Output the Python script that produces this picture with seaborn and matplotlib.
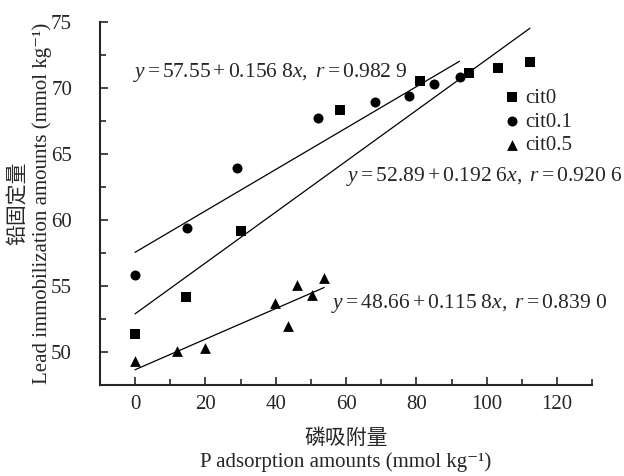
import numpy as np
import pandas as pd
import matplotlib
matplotlib.use('Agg')
import matplotlib.pyplot as plt
import seaborn as sns
from matplotlib.ticker import MultipleLocator

# cit0 (squares)
x_cit0 = [0, 14.6, 30.0, 58.3, 80.9, 95.1, 103.1, 112.3]
y_cit0 = [51.4, 54.2, 59.2, 68.3, 70.5, 71.1, 71.5, 72.0]
# cit0.1 (circles)
x_cit01 = [0, 14.8, 28.9, 52.0, 68.3, 78.0, 85.1, 92.3]
y_cit01 = [55.8, 59.4, 63.9, 67.7, 68.9, 69.4, 70.3, 70.8]
# cit0.5 (triangles)
x_cit05 = [0, 12.0, 19.8, 39.7, 43.4, 46.2, 50.3, 53.8]
y_cit05 = [49.3, 50.1, 50.3, 53.7, 52.0, 55.1, 54.3, 55.6]

# fitted equations shown in the figure (intercept, slope, r)
fits = {
    'cit0': (52.89, 0.1926, 0.9206),
    'cit0.1': (57.55, 0.1568, 0.9829),
    'cit0.5': (48.66, 0.1158, 0.8390),
}
eq_text = {
    'cit0': r'$y=52.89+0.192\ 6x,\ r=0.920\ 6$',
    'cit0.1': r'$y=57.55+0.156\ 8x,\ r=0.982\ 9$',
    'cit0.5': r'$y=48.66+0.115\ 8x,\ r=0.839\ 0$',
}
eq_pos = {'cit0': (60, 63.3), 'cit0.1': (-0.6, 71.2), 'cit0.5': (55.7, 53.7)}

series = {
    'cit0': (x_cit0, y_cit0, 's', 42),
    'cit0.1': (x_cit01, y_cit01, 'o', 52),
    'cit0.5': (x_cit05, y_cit05, '^', 60),
}

sns.set_style('ticks')
plt.rcParams['font.family'] = ['Liberation Serif', 'DejaVu Serif']
plt.rcParams['mathtext.fontset'] = 'custom'
plt.rcParams['mathtext.rm'] = 'Liberation Serif'
plt.rcParams['mathtext.it'] = 'Liberation Serif:italic'

fig = plt.figure(figsize=(6.24, 4.76), dpi=100)
ax = fig.add_axes([0.160, 0.191, 0.789, 0.763])

for name, (xs, ys, mk, sz) in series.items():
    df = pd.DataFrame({'x': xs, 'y': ys})
    sns.scatterplot(data=df, x='x', y='y', marker=mk, s=sz, color='black',
                    edgecolor='black', linewidth=0, label=name, ax=ax, zorder=3)
    a, b, r = fits[name]
    xl = np.array([min(xs), max(xs)])
    sns.lineplot(x=xl, y=a + b * xl, color='black', linewidth=0.9, ax=ax, legend=False)
    ax.text(*eq_pos[name], eq_text[name], fontsize=15.5, va='center', ha='left')

ax.set_xlim(-10, 130)
ax.set_ylim(47.5, 75)
ax.xaxis.set_major_locator(MultipleLocator(20))
ax.xaxis.set_minor_locator(MultipleLocator(10))
ax.yaxis.set_major_locator(MultipleLocator(5))
ax.yaxis.set_minor_locator(MultipleLocator(2.5))
ax.set_xticks([0, 20, 40, 60, 80, 100, 120])
ax.tick_params(which='major', direction='in', length=6, width=1.2, labelsize=15)
ax.tick_params(axis='x', which='major', pad=7)
ax.tick_params(axis='y', which='major', pad=20)
ax.tick_params(which='minor', direction='in', length=4, width=1.2)
sns.despine(ax=ax)
for sp in ['left', 'bottom']:
    ax.spines[sp].set_linewidth(1.5)

ax.set_xlabel('磷吸附量\nP adsorption amounts (mmol kg⁻¹)', fontsize=15,
              family=['Liberation Serif', 'Noto Sans CJK SC', 'DejaVu Serif'], labelpad=11,
              linespacing=1.25)
ax.set_ylabel('铅固定量\nLead immobilization amounts (mmol kg⁻¹)', fontsize=15,
              family=['Liberation Serif', 'Noto Sans CJK SC', 'DejaVu Serif'], labelpad=-1,
              linespacing=1.25)

leg = ax.legend(loc='upper left', bbox_to_anchor=(0.80, 0.84), frameon=False,
                fontsize=15, handletextpad=0.1, labelspacing=0.2, handlelength=1.0,
                borderaxespad=0)

fig.savefig('out.png', dpi=100)
